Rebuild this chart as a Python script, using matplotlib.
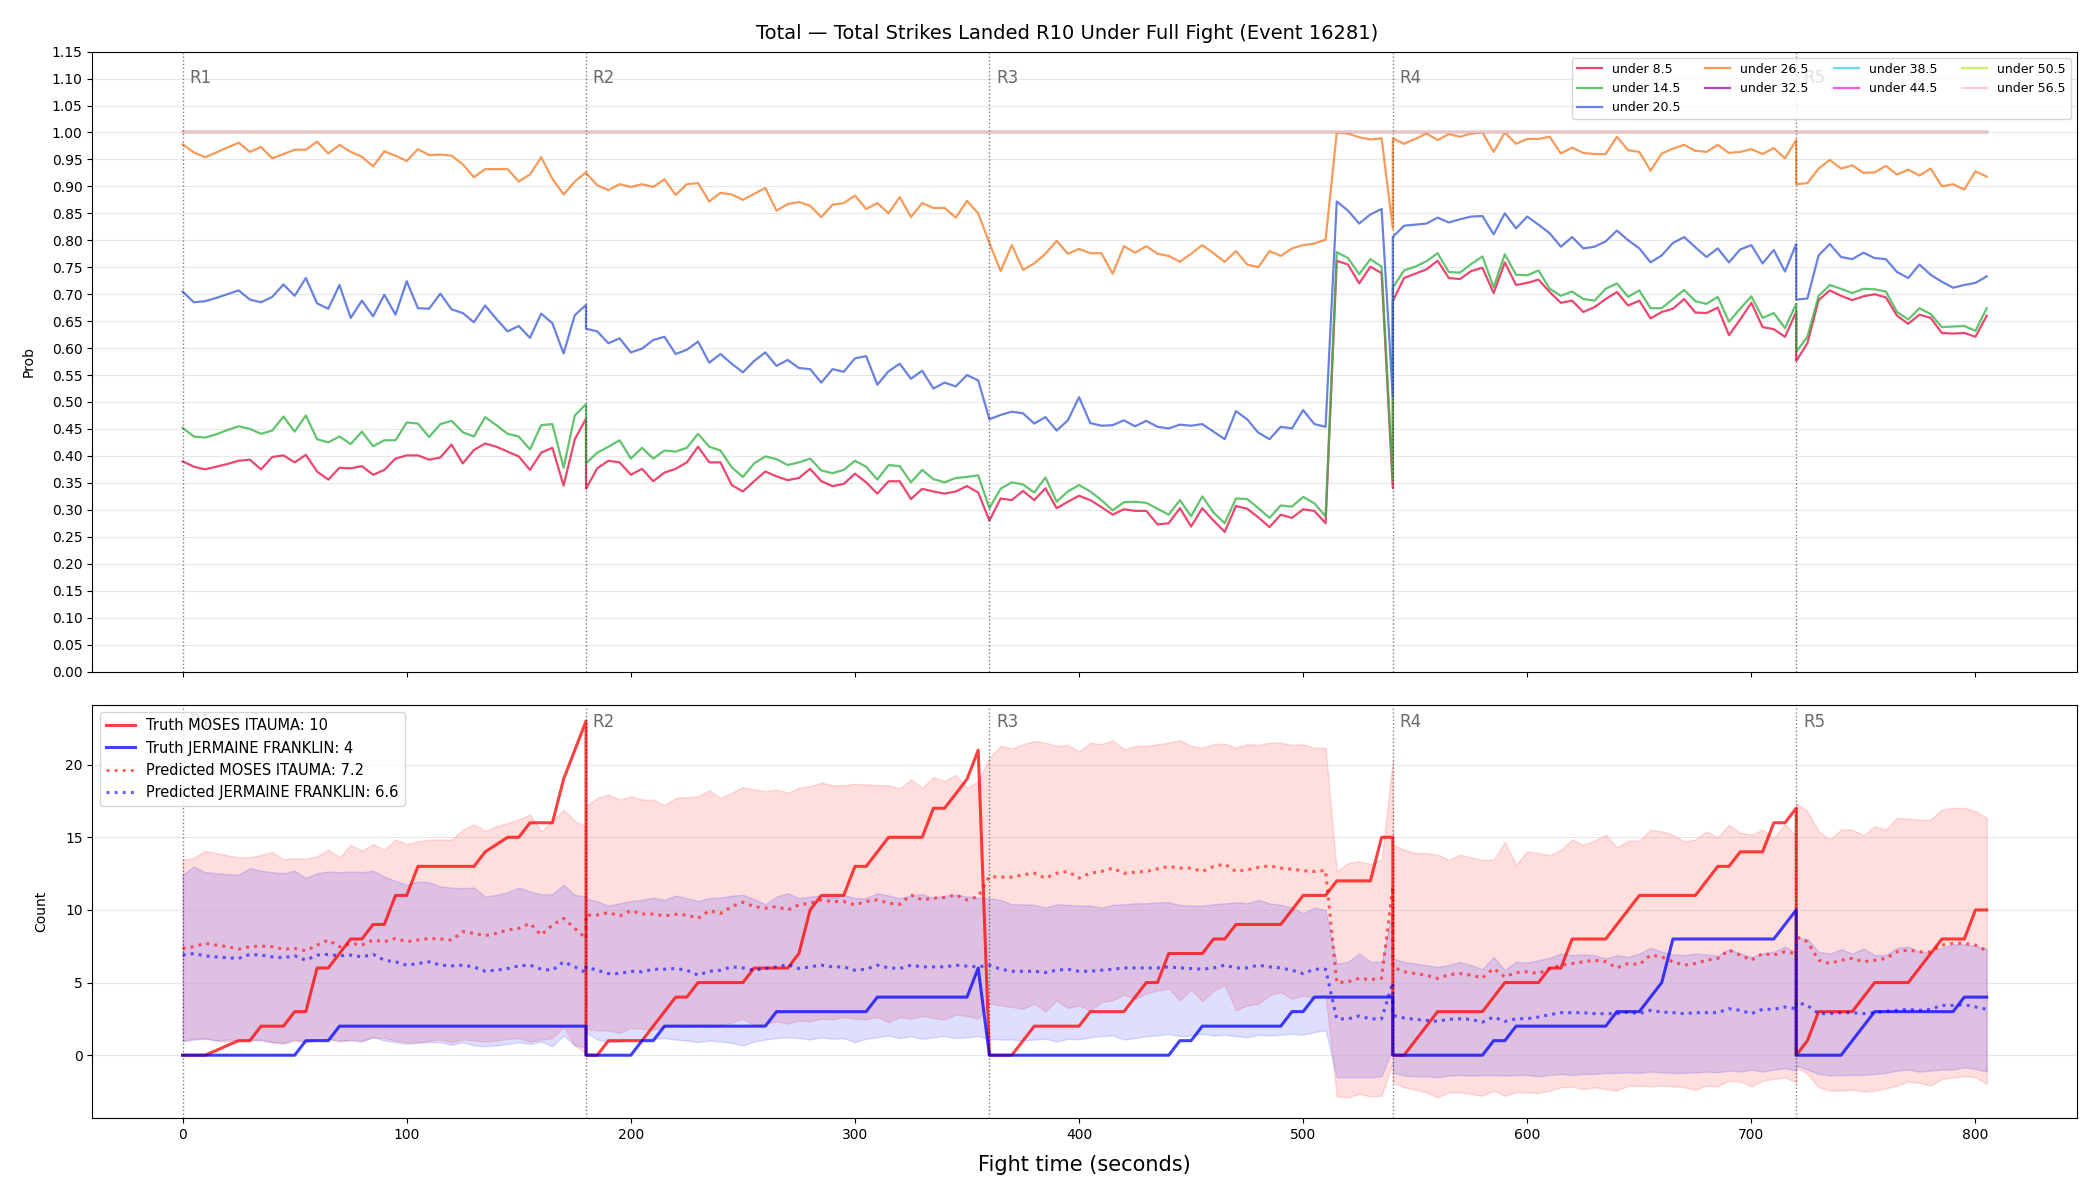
import numpy as np
import matplotlib
matplotlib.use("Agg")
import matplotlib.pyplot as plt

# sample times (5 s steps); round 2 has no 360 s sample, round 5 stops at 805 s
time_s = np.concatenate([
    np.arange(0, 181, 5),
    np.arange(180, 356, 5),
    np.arange(360, 541, 5),
    np.arange(540, 721, 5),
    np.arange(720, 806, 5),
])
round_starts = [0, 180, 360, 540, 720]
round_labels = ["R1", "R2", "R3", "R4", "R5"]

# ---- top panel: P(total strikes under line) ----
under_8_5 = [
    0.390, 0.380, 0.375, 0.380, 0.385, 0.391, 0.393, 0.375, 0.398, 0.401, 0.388, 0.402, 0.371, 0.356, 0.378, 0.377, 0.381, 0.365, 0.374,
    0.395, 0.401, 0.401, 0.393, 0.397, 0.421, 0.386, 0.411, 0.423, 0.417, 0.408, 0.399, 0.374, 0.406, 0.415, 0.345, 0.431, 0.469,
    0.339, 0.377, 0.391, 0.388, 0.365, 0.376, 0.353, 0.369, 0.376, 0.388, 0.417, 0.388, 0.388, 0.346, 0.334, 0.353, 0.371, 0.362,
    0.355, 0.359, 0.376, 0.353, 0.344, 0.348, 0.367, 0.351, 0.330, 0.353, 0.353, 0.320, 0.339, 0.334, 0.330, 0.334, 0.344, 0.332,
    0.280, 0.321, 0.318, 0.335, 0.318, 0.340, 0.303, 0.315, 0.326, 0.318, 0.305, 0.291, 0.301, 0.298, 0.298, 0.273, 0.275, 0.303, 0.269,
    0.303, 0.280, 0.259, 0.307, 0.302, 0.286, 0.268, 0.291, 0.285, 0.301, 0.298, 0.275, 0.762, 0.755, 0.720, 0.751, 0.739, 0.340,
    0.687, 0.730, 0.738, 0.746, 0.762, 0.730, 0.728, 0.743, 0.749, 0.702, 0.759, 0.717, 0.721, 0.727, 0.704, 0.684, 0.688, 0.667, 0.676,
    0.691, 0.704, 0.679, 0.688, 0.655, 0.667, 0.673, 0.691, 0.666, 0.665, 0.675, 0.624, 0.653, 0.684, 0.639, 0.635, 0.621, 0.667,
    0.576, 0.609, 0.689, 0.707, 0.697, 0.689, 0.696, 0.700, 0.694, 0.660, 0.645, 0.662, 0.656, 0.628, 0.627, 0.628, 0.621, 0.660,
]
under_14_5 = [
    0.452, 0.436, 0.434, 0.440, 0.448, 0.455, 0.450, 0.441, 0.447, 0.473, 0.445, 0.475, 0.431, 0.425, 0.436, 0.422, 0.445, 0.418, 0.429,
    0.429, 0.462, 0.460, 0.435, 0.459, 0.465, 0.444, 0.436, 0.472, 0.457, 0.441, 0.436, 0.412, 0.457, 0.459, 0.378, 0.475, 0.496,
    0.386, 0.406, 0.417, 0.429, 0.395, 0.415, 0.395, 0.410, 0.408, 0.415, 0.441, 0.417, 0.410, 0.379, 0.361, 0.386, 0.399, 0.394,
    0.383, 0.388, 0.395, 0.373, 0.368, 0.374, 0.391, 0.380, 0.356, 0.383, 0.381, 0.351, 0.374, 0.357, 0.351, 0.359, 0.361, 0.364,
    0.303, 0.339, 0.351, 0.347, 0.332, 0.360, 0.315, 0.334, 0.346, 0.334, 0.318, 0.299, 0.314, 0.315, 0.313, 0.302, 0.291, 0.318, 0.288,
    0.325, 0.295, 0.275, 0.321, 0.320, 0.303, 0.285, 0.308, 0.306, 0.324, 0.312, 0.288, 0.778, 0.767, 0.737, 0.765, 0.751, 0.355,
    0.712, 0.744, 0.751, 0.761, 0.776, 0.741, 0.740, 0.756, 0.770, 0.713, 0.774, 0.736, 0.735, 0.744, 0.710, 0.697, 0.705, 0.691, 0.688,
    0.710, 0.720, 0.695, 0.707, 0.674, 0.674, 0.691, 0.708, 0.687, 0.682, 0.695, 0.649, 0.673, 0.696, 0.656, 0.665, 0.637, 0.682,
    0.593, 0.621, 0.697, 0.717, 0.710, 0.702, 0.710, 0.709, 0.705, 0.667, 0.653, 0.674, 0.663, 0.639, 0.640, 0.641, 0.632, 0.674,
]
under_20_5 = [
    0.705, 0.685, 0.687, 0.693, 0.700, 0.707, 0.690, 0.685, 0.695, 0.718, 0.697, 0.730, 0.683, 0.673, 0.717, 0.656, 0.688, 0.659, 0.699,
    0.662, 0.724, 0.674, 0.673, 0.701, 0.672, 0.665, 0.648, 0.679, 0.654, 0.631, 0.641, 0.619, 0.664, 0.646, 0.590, 0.661, 0.680,
    0.636, 0.631, 0.609, 0.618, 0.592, 0.599, 0.615, 0.621, 0.589, 0.597, 0.612, 0.573, 0.589, 0.571, 0.555, 0.576, 0.592, 0.567,
    0.578, 0.563, 0.561, 0.536, 0.561, 0.556, 0.581, 0.585, 0.532, 0.557, 0.571, 0.543, 0.558, 0.525, 0.536, 0.529, 0.550, 0.540,
    0.468, 0.476, 0.482, 0.479, 0.460, 0.472, 0.447, 0.466, 0.509, 0.461, 0.456, 0.457, 0.466, 0.455, 0.465, 0.454, 0.451, 0.458, 0.456,
    0.459, 0.445, 0.431, 0.483, 0.468, 0.443, 0.431, 0.454, 0.451, 0.485, 0.459, 0.454, 0.872, 0.855, 0.831, 0.848, 0.858, 0.510,
    0.806, 0.827, 0.829, 0.831, 0.842, 0.833, 0.839, 0.844, 0.845, 0.811, 0.850, 0.822, 0.844, 0.829, 0.813, 0.788, 0.806, 0.785, 0.788,
    0.798, 0.818, 0.800, 0.785, 0.759, 0.772, 0.795, 0.806, 0.787, 0.769, 0.785, 0.759, 0.783, 0.791, 0.757, 0.782, 0.742, 0.793,
    0.690, 0.692, 0.772, 0.793, 0.769, 0.765, 0.777, 0.767, 0.765, 0.741, 0.730, 0.755, 0.736, 0.723, 0.712, 0.717, 0.721, 0.733,
]
under_26_5 = [
    0.978, 0.963, 0.954, 0.963, 0.972, 0.981, 0.964, 0.973, 0.952, 0.960, 0.968, 0.968, 0.983, 0.961, 0.977, 0.964, 0.955, 0.937, 0.965,
    0.957, 0.947, 0.969, 0.958, 0.959, 0.957, 0.941, 0.917, 0.932, 0.932, 0.932, 0.909, 0.922, 0.954, 0.914, 0.885, 0.909, 0.926,
    0.925, 0.902, 0.893, 0.904, 0.899, 0.904, 0.899, 0.913, 0.884, 0.904, 0.906, 0.872, 0.888, 0.885, 0.875, 0.886, 0.897, 0.855,
    0.867, 0.871, 0.864, 0.843, 0.866, 0.869, 0.883, 0.858, 0.869, 0.850, 0.880, 0.843, 0.869, 0.860, 0.860, 0.842, 0.873, 0.850,
    0.795, 0.743, 0.791, 0.745, 0.757, 0.775, 0.799, 0.775, 0.784, 0.776, 0.776, 0.738, 0.789, 0.777, 0.789, 0.775, 0.771, 0.760, 0.775,
    0.791, 0.776, 0.760, 0.780, 0.755, 0.750, 0.780, 0.771, 0.785, 0.791, 0.794, 0.801, 1.000, 0.998, 0.991, 0.987, 0.989, 0.822,
    0.989, 0.979, 0.988, 0.998, 0.986, 0.997, 0.992, 0.998, 1.000, 0.964, 1.000, 0.979, 0.988, 0.988, 0.992, 0.961, 0.972, 0.962, 0.960,
    0.960, 0.992, 0.967, 0.964, 0.929, 0.961, 0.970, 0.977, 0.966, 0.964, 0.977, 0.962, 0.964, 0.969, 0.960, 0.971, 0.952, 0.986,
    0.904, 0.906, 0.933, 0.949, 0.933, 0.939, 0.925, 0.926, 0.938, 0.922, 0.931, 0.920, 0.933, 0.900, 0.904, 0.894, 0.928, 0.918,
]
# higher lines sit at 1.0 for the whole fight
n_pts = len(time_s)
under_high = {
    "under 32.5": [1.0] * n_pts,
    "under 38.5": [1.0] * n_pts,
    "under 44.5": [1.0] * n_pts,
    "under 50.5": [1.0] * n_pts,
    "under 56.5": [1.0] * n_pts,
}

line_colors = ["#e6194b", "#3cb44b", "#4363d8", "#f58231", "#911eb4",
               "#42d4f4", "#f032e6", "#bfef45", "#fabed4"]

# ---- bottom panel: counts ----
truth_moses = [
    0, 0, 0, 0.33, 0.67, 1, 1, 2, 2, 2, 3, 3, 6, 6, 7, 8, 8, 9, 9, 11, 11, 13, 13, 13, 13, 13, 13, 14, 14.5, 15, 15, 16, 16, 16, 19, 21, 23,
    0, 0, 1, 1, 1, 1, 2, 3, 4, 4, 5, 5, 5, 5, 5, 6, 6, 6, 6, 7, 10, 11, 11, 11, 13, 13, 14, 15, 15, 15, 15, 17, 17, 18, 19, 21,
    0, 0, 0, 1, 2, 2, 2, 2, 2, 3, 3, 3, 3, 4, 5, 5, 7, 7, 7, 7, 8, 8, 9, 9, 9, 9, 9, 10, 11, 11, 11, 12, 12, 12, 12, 15, 15,
    0, 0, 1, 2, 3, 3, 3, 3, 3, 4, 5, 5, 5, 5, 6, 6, 8, 8, 8, 8, 9, 10, 11, 11, 11, 11, 11, 11, 12, 13, 13, 14, 14, 14, 16, 16, 17,
    0, 1, 3, 3, 3, 3, 4, 5, 5, 5, 5, 6, 7, 8, 8, 8, 10, 10,
]
truth_jermaine = [
    0, 0, 0, 0, 0, 0, 0, 0, 0, 0, 0, 1, 1, 1, 2, 2, 2, 2, 2, 2, 2, 2, 2, 2, 2, 2, 2, 2, 2, 2, 2, 2, 2, 2, 2, 2, 2,
    0, 0, 0, 0, 0, 1, 1, 2, 2, 2, 2, 2, 2, 2, 2, 2, 2, 3, 3, 3, 3, 3, 3, 3, 3, 3, 4, 4, 4, 4, 4, 4, 4, 4, 4, 6,
    0, 0, 0, 0, 0, 0, 0, 0, 0, 0, 0, 0, 0, 0, 0, 0, 0, 1, 1, 2, 2, 2, 2, 2, 2, 2, 2, 3, 3, 4, 4, 4, 4, 4, 4, 4, 4,
    0, 0, 0, 0, 0, 0, 0, 0, 0, 1, 1, 2, 2, 2, 2, 2, 2, 2, 2, 2, 3, 3, 3, 4, 5, 8, 8, 8, 8, 8, 8, 8, 8, 8, 8, 9, 10,
    0, 0, 0, 0, 0, 1, 2, 3, 3, 3, 3, 3, 3, 3, 3, 4, 4, 4,
]
pred_moses = [
    7.35, 7.47, 7.70, 7.58, 7.47, 7.30, 7.47, 7.51, 7.47, 7.30, 7.35, 7.19, 7.58, 7.93, 7.47, 7.70, 7.58, 7.93, 7.81,
    8.04, 7.81, 7.93, 8.04, 8.00, 7.93, 8.50, 8.39, 8.23, 8.39, 8.62, 8.73, 9.08, 8.27, 8.96, 9.42, 8.73, 8.04,
    9.65, 9.65, 9.82, 9.59, 9.95, 9.72, 9.72, 9.59, 9.70, 9.65, 9.42, 9.95, 9.76, 10.23, 10.53, 10.23, 10.12, 10.23,
    10.00, 10.35, 10.46, 10.69, 10.58, 10.58, 10.35, 10.58, 10.69, 10.46, 10.39, 11.04, 10.69, 10.81, 10.85, 11.04, 10.69, 10.92,
    12.30, 12.26, 12.26, 12.42, 12.53, 12.19, 12.53, 12.65, 12.19, 12.53, 12.65, 12.88, 12.53, 12.60, 12.65, 12.83, 12.99, 12.88, 12.88,
    12.65, 12.99, 13.16, 12.65, 12.76, 12.93, 13.04, 12.88, 12.81, 12.70, 12.65, 12.72, 5.00, 5.05, 5.30, 5.20, 5.30, 11.60,
    6.08, 5.74, 5.62, 5.51, 5.28, 5.55, 5.62, 5.51, 5.32, 5.97, 5.39, 5.69, 5.74, 5.62, 5.97, 6.20, 6.31, 6.43, 6.54,
    6.43, 6.01, 6.31, 6.24, 6.89, 6.77, 6.43, 6.20, 6.31, 6.54, 6.66, 7.24, 6.89, 6.54, 7.00, 6.89, 7.12, 7.00,
    8.16, 7.81, 6.54, 6.31, 6.54, 6.66, 6.43, 6.54, 6.66, 7.12, 7.24, 7.12, 7.12, 7.58, 7.70, 7.70, 7.58, 7.20,
]
pred_jermaine = [
    6.89, 7.00, 6.84, 6.77, 6.71, 6.66, 6.94, 6.89, 6.77, 6.71, 6.84, 6.54, 6.89, 6.94, 6.84, 6.89, 6.77, 6.94, 6.54,
    6.43, 6.20, 6.31, 6.43, 6.20, 6.15, 6.20, 6.08, 5.78, 5.85, 5.97, 6.15, 6.20, 5.92, 5.85, 6.43, 6.08, 5.69,
    6.08, 5.85, 5.62, 5.62, 5.78, 5.74, 5.92, 5.92, 5.97, 5.85, 5.51, 5.78, 5.85, 6.08, 6.01, 5.85, 5.97, 6.08,
    6.24, 5.97, 6.08, 6.20, 6.08, 6.08, 5.85, 5.92, 6.20, 6.01, 5.97, 6.20, 6.08, 6.08, 6.08, 6.20, 6.13, 6.08,
    6.20, 5.92, 5.78, 5.78, 5.78, 5.69, 5.85, 5.92, 5.78, 5.78, 5.85, 5.92, 6.01, 6.01, 6.01, 6.01, 6.08, 6.01, 5.97,
    5.92, 6.01, 6.20, 6.01, 6.01, 6.20, 6.08, 6.01, 5.85, 5.62, 5.92, 5.92, 2.50, 2.50, 2.70, 2.50, 2.50, 5.00,
    2.74, 2.56, 2.47, 2.40, 2.33, 2.47, 2.51, 2.47, 2.28, 2.63, 2.33, 2.51, 2.51, 2.63, 2.79, 2.93, 2.93, 2.93, 2.86,
    2.86, 2.86, 2.97, 2.86, 3.09, 2.97, 2.93, 2.86, 2.93, 2.93, 2.93, 3.20, 3.09, 2.86, 3.16, 3.16, 3.32, 3.20,
    3.66, 3.43, 2.86, 2.86, 2.93, 2.93, 2.86, 2.93, 3.02, 3.09, 3.16, 3.09, 3.16, 3.43, 3.43, 3.48, 3.32, 3.16,
]
moses_hi = [
    13.46, 13.57, 14.08, 13.92, 13.76, 13.62, 13.62, 13.80, 13.99, 13.50, 13.57, 13.53, 13.69, 14.15, 13.62, 14.49, 14.08, 14.54, 14.15,
    14.84, 14.54, 14.72, 14.84, 14.84, 14.84, 15.53, 15.88, 15.46, 15.76, 15.99, 16.22, 16.57, 15.41, 16.11, 16.91, 16.11, 15.76,
    17.14, 17.72, 17.95, 17.60, 17.83, 17.60, 17.60, 17.21, 17.72, 17.76, 17.83, 18.23, 17.72, 18.06, 18.46, 18.29, 18.18, 18.29,
    18.06, 18.41, 18.53, 18.76, 18.59, 18.59, 18.69, 18.64, 18.59, 18.59, 18.36, 18.99, 18.41, 19.15, 18.87, 19.29, 18.41, 18.87,
    20.48, 21.29, 21.13, 21.41, 21.64, 21.52, 21.29, 21.36, 20.90, 21.52, 21.41, 21.68, 21.06, 21.29, 21.29, 21.41, 21.52, 21.68, 21.29,
    21.17, 21.41, 21.45, 21.17, 21.41, 21.36, 21.52, 21.52, 21.36, 21.41, 21.17, 21.17, 12.65, 13.23, 13.34, 13.16, 13.46, 20.30,
    14.49, 14.15, 13.92, 13.92, 13.80, 13.46, 13.80, 13.62, 13.46, 13.46, 14.68, 13.11, 14.03, 13.92, 13.76, 14.15, 14.84, 14.49, 14.77,
    15.18, 14.31, 14.77, 14.77, 15.53, 15.41, 15.18, 14.72, 14.84, 15.41, 15.00, 15.88, 15.30, 15.18, 15.53, 14.95, 15.92, 15.07,
    17.37, 16.80, 15.41, 14.84, 15.53, 15.53, 15.14, 15.76, 15.53, 16.34, 16.29, 16.22, 16.22, 16.91, 17.03, 17.03, 16.80, 16.34,
]
moses_lo = [
    1.01, 1.13, 1.18, 1.01, 0.94, 1.08, 1.01, 1.08, 0.90, 0.78, 1.01, 0.90, 1.01, 1.13, 0.94, 1.08, 1.01, 1.24, 1.18,
    1.01, 0.90, 0.90, 1.01, 1.08, 0.90, 1.08, 1.01, 0.94, 1.01, 1.13, 1.18, 0.94, 1.08, 1.18, 1.94, 0.67, 0.09,
    1.82, 1.71, 1.71, 1.54, 1.87, 1.82, 1.77, 1.94, 2.05, 1.94, 2.05, 1.94, 2.10, 2.24, 2.51, 2.05, 2.17, 2.33,
    2.17, 2.40, 2.33, 2.51, 2.47, 2.63, 2.51, 2.47, 2.63, 2.28, 2.63, 2.51, 2.70, 2.56, 2.47, 2.79, 2.70, 2.51,
    3.55, 3.43, 3.32, 3.20, 3.55, 3.02, 3.78, 3.25, 3.43, 3.09, 3.66, 3.78, 4.17, 3.89, 4.24, 4.47, 4.59, 3.78, 4.54,
    3.71, 4.47, 4.82, 3.09, 3.43, 3.55, 4.12, 4.35, 3.89, 4.12, 3.94, 4.12, -2.85, -2.90, -2.67, -2.83, -2.79, -0.50,
    -1.87, -2.21, -2.37, -2.56, -2.90, -2.56, -2.56, -2.67, -2.79, -2.44, -2.79, -2.56, -2.56, -2.60, -2.44, -2.21, -2.17, -2.33, -2.21,
    -2.33, -2.44, -2.10, -2.10, -2.14, -2.10, -2.14, -2.21, -2.37, -2.10, -2.14, -1.75, -1.82, -2.14, -1.75, -1.64, -1.52, -1.87,
    -0.83, -1.29, -2.21, -2.44, -2.44, -2.37, -2.51, -2.44, -2.28, -2.10, -1.82, -1.91, -2.10, -1.64, -1.52, -1.45, -1.52, -1.98,
]
jermaine_hi = [
    12.42, 13.00, 12.60, 12.53, 12.47, 12.42, 12.88, 12.70, 12.60, 12.53, 12.70, 12.19, 12.53, 12.65, 12.60, 12.65, 12.60, 12.70, 12.30,
    12.00, 11.73, 11.96, 11.91, 11.61, 11.54, 11.50, 11.54, 10.92, 11.04, 11.22, 11.54, 11.27, 11.08, 11.08, 11.73, 11.04, 10.92,
    10.81, 10.58, 10.30, 10.46, 10.62, 10.69, 10.85, 10.69, 10.99, 10.81, 10.62, 10.81, 10.85, 10.99, 11.04, 10.76, 10.39, 10.92,
    11.15, 10.81, 10.92, 10.99, 10.85, 11.04, 10.81, 10.81, 11.15, 10.99, 10.81, 10.99, 11.08, 10.85, 10.99, 11.04, 10.92, 10.85,
    10.81, 10.69, 10.39, 10.39, 10.35, 10.16, 10.39, 10.35, 10.30, 10.30, 10.16, 10.35, 10.39, 10.46, 10.46, 10.53, 10.53, 10.35, 10.30,
    10.30, 10.39, 10.46, 10.53, 10.46, 10.69, 10.46, 10.35, 10.16, 9.77, 10.16, 10.00, 6.31, 6.43, 7.00, 6.43, 6.43, 10.00,
    6.66, 6.43, 6.31, 6.20, 6.08, 6.20, 6.43, 6.20, 5.92, 6.77, 5.85, 6.43, 6.38, 6.54, 6.71, 7.00, 6.89, 6.94, 6.89,
    6.66, 6.89, 6.77, 7.00, 7.40, 7.12, 6.94, 6.89, 7.00, 6.94, 6.84, 7.30, 7.00, 6.77, 7.00, 7.12, 7.47, 7.07,
    8.09, 8.00, 7.12, 7.00, 7.30, 7.00, 7.35, 6.89, 6.89, 7.40, 7.47, 7.12, 7.07, 7.40, 7.63, 7.63, 7.53, 7.30,
]
jermaine_lo = [
    0.94, 1.08, 1.13, 1.01, 1.08, 1.01, 1.08, 1.01, 0.90, 0.85, 1.08, 0.94, 1.08, 1.13, 1.01, 1.01, 0.94, 1.24, 1.01,
    0.90, 0.78, 0.85, 0.90, 0.90, 0.71, 0.90, 0.67, 0.62, 0.67, 0.78, 0.90, 0.78, 0.94, 0.62, 1.36, 0.67, 0.55,
    1.59, 1.08, 0.90, 0.94, 1.08, 1.13, 1.13, 1.18, 1.08, 1.01, 0.90, 1.01, 0.94, 0.85, 0.67, 0.94, 1.08, 1.18,
    1.24, 1.18, 1.08, 1.24, 1.13, 1.18, 0.90, 1.13, 1.24, 1.36, 1.18, 1.31, 1.13, 1.24, 1.31, 1.18, 1.24, 1.31,
    1.13, 1.08, 1.08, 1.01, 1.08, 1.13, 0.94, 1.13, 1.08, 1.24, 1.31, 1.36, 1.08, 1.18, 1.31, 1.36, 1.47, 1.31, 1.36,
    1.47, 1.36, 1.41, 1.31, 1.24, 1.41, 1.36, 1.41, 1.47, 1.41, 1.59, 1.71, -1.52, -1.52, -1.52, -1.52, -1.45, 0.50,
    -1.18, -1.41, -1.45, -1.45, -1.52, -1.41, -1.36, -1.41, -1.36, -1.36, -1.41, -1.36, -1.36, -1.45, -1.36, -1.29, -1.36, -1.29, -1.29,
    -1.22, -1.22, -1.18, -1.22, -1.13, -1.18, -1.22, -1.22, -1.18, -1.13, -1.18, -1.06, -1.13, -0.99, -1.13, -0.99, -0.90, -1.06,
    -0.71, -0.99, -1.29, -1.41, -1.36, -1.36, -1.36, -1.29, -1.22, -1.06, -0.99, -1.13, -1.06, -0.99, -0.99, -0.83, -0.94, -1.13,
]

fig, (ax1, ax2) = plt.subplots(2, 1, figsize=(21, 12), dpi=100, sharex=True,
                               gridspec_kw={"height_ratios": [3, 2]})
fig.subplots_adjust(left=0.044, right=0.989, top=0.957, bottom=0.068, hspace=0.065)

low_series = {"under 8.5": under_8_5, "under 14.5": under_14_5,
              "under 20.5": under_20_5, "under 26.5": under_26_5}
all_series = {**low_series, **under_high}
for (name, vals), col in zip(all_series.items(), line_colors):
    ax1.plot(time_s, vals, color=col, lw=1.6, alpha=0.8, label=name)

ax1.set_ylim(0, 1.15)
ax1.set_yticks(np.arange(0, 1.151, 0.05))
ax1.set_ylabel("Prob", labelpad=12)
ax1.grid(axis="y", alpha=0.3)
ax1.legend(loc="upper right", ncol=4, fontsize=9)

# bands first, then lines
ax2.fill_between(time_s, moses_lo, moses_hi, color="red", alpha=0.13)
ax2.fill_between(time_s, jermaine_lo, jermaine_hi, color="blue", alpha=0.13)
ax2.plot(time_s, truth_moses, color="red", lw=2.2, alpha=0.75, label="Truth MOSES ITAUMA: 10")
ax2.plot(time_s, truth_jermaine, color="blue", lw=2.2, alpha=0.75, label="Truth JERMAINE FRANKLIN: 4")
ax2.plot(time_s, pred_moses, color="red", lw=2.2, ls=":", alpha=0.6, label="Predicted MOSES ITAUMA: 7.2")
ax2.plot(time_s, pred_jermaine, color="blue", lw=2.2, ls=":", alpha=0.6, label="Predicted JERMAINE FRANKLIN: 6.6")
ax2.set_ylim(-4.35, 24.1)
ax2.set_ylabel("Count", labelpad=12)
ax2.grid(axis="y", alpha=0.3)
ax2.legend(loc="upper left", fontsize=10.5)

ax2.set_xlim(-40.25, 845.25)
ax2.set_xlabel("Fight time (seconds)", fontsize=15, labelpad=9)

for ax in (ax1, ax2):
    for t0, lab in zip(round_starts, round_labels):
        ax.axvline(t0, color="k", ls=":", lw=1, alpha=0.5)
        ax.text(t0 + 3, 0.958, lab, transform=ax.get_xaxis_transform(),
                va="center", ha="left", fontsize=12, color="dimgray")

fig.suptitle("Total \u2014 Total Strikes Landed R10 Under Full Fight (Event 16281)",
             fontsize=14, x=0.508)

fig.savefig("out.png")
